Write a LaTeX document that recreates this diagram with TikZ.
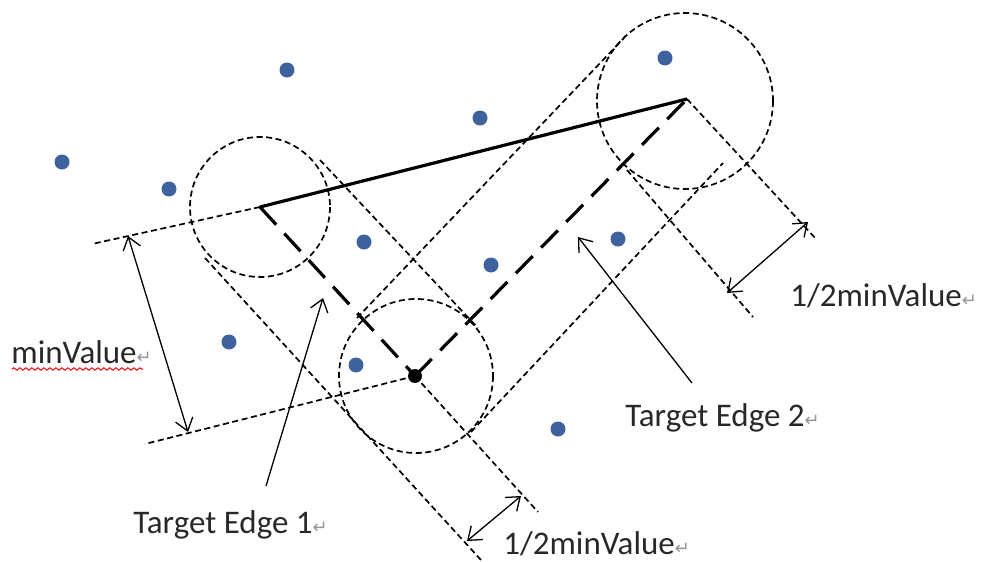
\documentclass[tikz,border=0pt]{standalone}
\usepackage{fontspec}
\setmainfont{Carlito}
\newfontfamily\symfont{DejaVu Sans}
\usetikzlibrary{arrows.meta, decorations.pathmorphing}
\definecolor{dotblue}{RGB}{62,98,158}
\definecolor{labelgray}{RGB}{40,40,40}
\definecolor{markgray}{RGB}{150,150,150}
\newcommand{\retmark}{{\symfont\color{markgray}\fontsize{9}{9}\selectfont ↵}}

\begin{document}
\begin{tikzpicture}[x=0.5pt, y=-0.5pt, >={Straight Barb[length=6pt, width=9pt]},
    guide/.style={line width=0.85pt, dash pattern=on 3pt off 1.8pt},
    edgeline/.style={line width=1.6pt, dash pattern=on 12pt off 6pt},
    dimarrow/.style={<->, line width=0.65pt},
    pointer/.style={->, line width=0.65pt},
    lbl/.style={anchor=west, inner sep=0pt, text=labelgray, font=\fontsize{16.5}{18}\selectfont}]
    \useasboundingbox (0,0) rectangle (987,562);

    % edge end points
    \coordinate (A) at (260,207);
    \coordinate (B) at (687,99);
    \coordinate (C) at (415,376);

    % sample points
    \foreach \x/\y in {287/70, 62/162, 169/189, 480/118, 665/58, 364/242, 491/265, 618/239, 229/342, 356/365, 558/429}
      { \fill[dotblue] (\x,\y) circle[radius=7.5]; }

    % circles round the end points
    \draw[guide] (A) circle[radius=70];
    \draw[guide] (685,101) circle[radius=88];
    \draw[guide] (416,376) circle[radius=77];

    % tubes round the two target edges
    \draw[guide] (320,160) -- (478,328);
    \draw[guide] (205,258) -- (481,560);
    \draw[guide] (357,318) -- (624,38);
    \draw[guide] (471,432) -- (723,163);

    % extension lines
    \draw[guide] (C) -- (538,512);
    \draw[guide] (B) -- (817,240);
    \draw[guide] (627,170) -- (753,317);
    \draw[guide] (A) -- (92,244);
    \draw[guide] (C) -- (145,444);

    % dimensions
    \coordinate (lowA) at (467,541);
    \coordinate (lowB) at (521,496);
    \coordinate (rgtA) at (727,293);
    \coordinate (rgtB) at (808,222);
    \coordinate (lftA) at (128,236);
    \coordinate (lftB) at (188,432);
    \draw[dimarrow] (lowA) -- (lowB);
    \draw[dimarrow] (rgtA) -- (rgtB);
    \draw[dimarrow] (lftA) -- (lftB);

    % the edges
    \draw[line width=1.6pt] (A) -- (B);
    \draw[edgeline] (A) -- (C);
    \draw[edgeline] (C) -- (B);
    \fill (C) circle[radius=7];

    % labels
    \node[lbl] (minlbl) at (11,352) {minValue\retmark};
    \draw[red, line width=0.5pt, decorate, decoration={snake, amplitude=0.6pt, segment length=3pt}] (12,369) -- (143,369);
    \node[lbl] (halflow) at (503,544) {1/2minValue\retmark};
    \node[lbl] (halfrgt) at (790,296) {1/2minValue\retmark};
    \node[lbl] (edge1) at (133,525) {Target Edge 1\retmark};
    \node[lbl] (edge2) at (625,418) {Target Edge 2\retmark};

    % pointers
    \coordinate (tail1) at (266,486);
    \coordinate (tip1) at (323,298);
    \coordinate (tail2) at (692,383);
    \coordinate (tip2) at (578,237);
    \draw[pointer] (tail1) -- (tip1);
    \draw[pointer] (tail2) -- (tip2);
\end{tikzpicture}
\end{document}
